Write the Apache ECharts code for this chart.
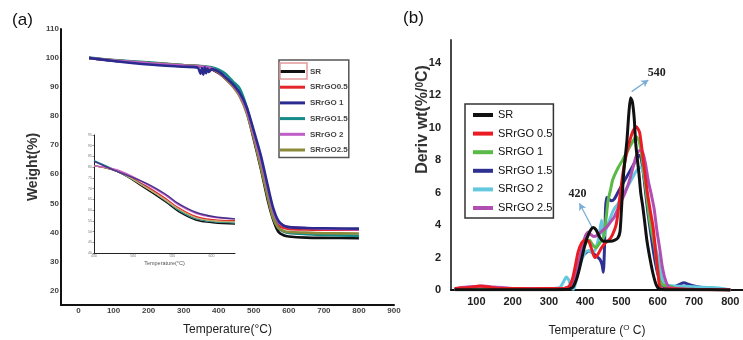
<!DOCTYPE html>
<html><head><meta charset="utf-8">
<script src="https://cdn.jsdelivr.net/npm/echarts@6/dist/echarts.min.js"></script>
<style>html,body{margin:0;padding:0;background:#fff}#c{width:743px;height:340px}</style>
</head><body><div id="c"></div>
<script>
// ---------- Panel (a): TGA weight curves ----------
const NAMES_A = ['SR','SRrGO0.5','SRrGO 1','SRrGO1.5','SRrGO 2','SRrGO2.5'];
const TA = [30,100,200,300,360,380,400,420,440,460,480,500,520,540,555,570,585,600,650,700,800];
const A_SR  = [100,99.1,98.2,97.4,96.9,96.1,94.8,93,91,87.5,81.5,72,62,51,44.5,40.2,39,38.6,38.2,38.1,38];
const A_R05 = [100,99.2,98.3,97.5,97,96.3,95,92.8,90.5,87,81.5,73,63.5,53,46,42.5,41.6,41.2,41,40.9,40.9];
const A_T15 = [100.2,99.3,98.5,97.6,97.2,96.8,96,94.5,92,89.5,83,73.5,63,52.5,45.5,41.5,40.3,39.8,39.4,39.1,38.8];
const A_P2  = [100,99.1,98.2,97.4,97,96.4,95.2,93.2,90.8,87.5,82,74,65,55,47.5,43.5,42.3,41.8,41.5,41.3,41];
const A_O25 = [100,99.2,98.3,97.5,97,96.4,95,92.8,90.2,86.8,81,72.5,62.5,52,45,41.5,40.5,40.1,39.9,39.7,39.6];
const TB = [30,100,200,300,340,348,352,356,360,364,368,372,380,400,420,440,460,480,500,520,540,555,570,585,600,650,700,800];
const A_B1  = [100,99,97.8,97,96.7,94.6,96.6,94.3,96.8,94.8,96.4,95.2,96.2,95.3,93.3,91,88,83,75,66.5,56,48.5,44,42.3,41.8,41.5,41.4,41.3];
const COLORS_A = ['#111111','#e3262b','#2b2b8f','#178a8a','#c05ec8','#8b8a3b'];
const XTICKS_A = [0,100,200,300,400,500,600,700,800,900];
const YTICKS_A = [20,30,40,50,60,70,80,90,100,110];

// inset of panel (a)
const T_IN = [450,480,515,541,558,580,602,630];
const IN_SR  = [80.6,77.9,70.2,63.9,59.3,55.4,54.1,53.5];
const IN_R05 = [80.6,78.3,71.5,65.5,61,57,55.5,55];
const IN_B1  = [82.7,77.9,72.8,67.5,63,59,57,55.9];
const IN_T15 = [83,78,71,64.5,60,56,54.6,54];
const IN_P2  = [80.6,78.7,72.5,67,62.4,58.5,56.6,55.9];
const IN_O25 = [80.6,78,70.8,64.8,60.5,56.5,55,54.6];

// ---------- Panel (b): DTG curves ----------
const NAMES_B = ['SR','SRrGO 0.5','SRrGO 1','SRrGO 1.5','SRrGO 2','SRrGO 2.5'];
const COLORS_B = ['#111111','#ec1c24','#5bb947','#2e3192','#63c7de','#b04fb0'];
const XTICKS_B = [100,200,300,400,500,600,700,800];
const YTICKS_B = [0,2,4,6,8,10,12,14];
const TS_SR = [40,100,200,300,350,365,375,385,395,405,415,422,430,440,450,460,470,480,490,496,500,506,515,520,525,530,535,539,543,548,553,559,565,570,578,587,596,605,620,700,800];
const B_SR  = [0.02,0.02,0.02,0.02,0.03,0.15,0.6,1.4,2.4,3.2,3.7,3.85,3.7,3.25,3.0,3.0,3.0,3.05,3.2,3.6,5.0,7.2,9.2,10.8,11.85,11.6,10.6,9.1,8.2,7.2,6.0,5.1,4.0,3.06,2.0,1.0,0.3,0.05,0.02,0.02,0];
const TS_R05 = [40,80,110,130,160,200,250,300,340,355,365,372,380,390,400,410,418,426,435,445,455,465,475,485,490,497,504,512,523,532,541,550,559,570,580,587,595,601,605,612,630,700,800];
const B_R05  = [0.1,0.15,0.25,0.2,0.1,0.1,0.08,0.1,0.1,0.2,0.7,1.4,2.3,2.9,3.1,3.0,2.5,2.0,2.2,2.6,2.9,3.06,3.4,4.0,4.7,6.0,7.2,8.2,9.2,9.8,10.06,9.7,8.2,6.2,4.8,3.9,2.2,1.0,0.2,0.05,0.08,0.03,0.0];
const TS_G1 = [40,100,200,300,350,365,375,385,395,405,412,420,430,440,450,458,463,470,476,490,503,515,527,535,541,548,555,562,569,577,585,592,598,605,615,630,650,700,800];
const B_G1  = [0.05,0.08,0.06,0.06,0.08,0.3,1.0,1.9,2.6,3.0,3.06,2.8,2.6,2.9,3.2,4.5,5.5,6.2,6.8,7.5,8.0,8.5,9.0,9.3,9.44,9.2,8.4,7.2,5.9,4.4,3.4,2.6,1.5,0.6,0.3,0.25,0.1,0.05,0.0];
const TS_B15 = [40,100,200,300,340,360,370,380,390,400,410,420,430,440,446,450,453,456,459,465,472,480,490,500,510,520,530,540,548,553,558,565,572,580,590,600,610,620,640,660,672,685,700,730,770,800];
const B_B15  = [0.05,0.05,0.05,0.05,0.05,0.3,0.8,1.5,2.0,2.25,2.4,2.3,2.1,1.9,1.6,1.1,2.5,5.0,5.7,5.6,5.5,5.6,6.0,6.4,6.8,7.2,7.6,8.0,8.3,8.2,7.6,6.3,4.9,3.6,2.1,1.0,0.35,0.15,0.15,0.35,0.45,0.35,0.25,0.12,0.05,0.0];
const TS_C2 = [40,100,200,300,330,340,348,355,362,368,375,385,395,405,412,420,428,435,440,445,448,452,458,465,472,480,490,500,510,520,530,540,550,556,562,570,578,586,594,601,607,614,625,650,700,750,790,800];
const B_C2  = [0.05,0.05,0.05,0.08,0.15,0.5,0.8,0.6,0.1,0.05,0.6,1.5,2.1,2.4,2.4,2.3,2.5,3.0,3.6,4.3,3.5,3.3,3.8,4.2,4.6,5.0,5.3,5.7,6.1,6.5,6.9,7.3,7.55,7.5,7.1,6.0,4.7,3.6,2.6,2.0,1.2,0.6,0.3,0.25,0.2,0.15,0.05,0.0];
const TS_M25 = [40,60,80,100,120,140,170,200,250,300,340,360,370,380,390,400,408,416,424,432,440,450,460,470,480,490,500,510,520,530,540,550,558,566,574,582,590,598,605,612,620,630,650,700,800];
const B_M25  = [0.05,0.15,0.2,0.22,0.25,0.2,0.15,0.1,0.1,0.1,0.1,0.2,0.6,1.5,2.5,3.3,3.57,3.4,3.3,3.35,3.5,3.7,3.9,4.2,4.5,5.0,5.5,6.0,6.6,7.4,8.2,8.6,8.5,7.8,6.7,5.9,5.0,3.6,2.6,1.5,0.7,0.2,0.1,0.05,0.02];
const PEAK_LABELS = ['540','420'];

const FF = '"Liberation Sans", Arial, sans-serif';
const pairs = (xs, ys) => xs.map((x, i) => [x, ys[i]]);

function lineA(name, xs, ys, color, z) {
  return {name, type:'line', xAxisIndex:0, yAxisIndex:0, data:pairs(xs, ys), symbol:'none', smooth:0.25,
    lineStyle:{color, width:2.6}, itemStyle:{color}, z};
}
function lineIn(name, ys, color) {
  return {name, type:'line', xAxisIndex:1, yAxisIndex:1, data:pairs(T_IN, ys), symbol:'none', smooth:0.4,
    lineStyle:{color, width:1.4}, itemStyle:{color}};
}
function lineB(name, xs, ys, color, z, extra) {
  return Object.assign({name, type:'line', xAxisIndex:2, yAxisIndex:2, data:pairs(xs, ys), symbol:'none', smooth:0.2,
    lineStyle:{color, width:3}, itemStyle:{color}, z}, extra || {});
}

const chart = echarts.init(document.getElementById('c'), null, {renderer:'canvas'});
chart.setOption({
  animation:false,
  backgroundColor:'#ffffff',
  textStyle:{fontFamily:FF},
  grid:[
    {left:61, top:29, width:333, height:276, outerBoundsMode:'none', containLabel:false},
    {left:94, top:135, width:141, height:118, outerBoundsMode:'none', containLabel:false},
    {left:451, top:40, width:292, height:250, outerBoundsMode:'none', containLabel:false}
  ],
  xAxis:[
    {gridIndex:0, type:'value', min:-50, max:900, interval:50,
     axisLine:{onZero:false, lineStyle:{color:'#111', width:2}}, axisTick:{show:false}, splitLine:{show:false},
     axisLabel:{formatter:v => XTICKS_A.includes(v) ? String(v) : '', fontSize:8, fontWeight:'bold', color:'#444', margin:2, fontFamily:FF},
     name:'Temperature(°C)', nameLocation:'middle', nameGap:19,
     nameTextStyle:{fontSize:12, color:'#222', fontFamily:FF}},
    {gridIndex:1, type:'value', min:450, max:630, interval:50,
     axisLine:{onZero:false, lineStyle:{color:'#222', width:1}}, axisTick:{show:true, length:1.5, lineStyle:{color:'#444', width:0.6}}, splitLine:{show:false},
     axisLabel:{fontSize:3.5, color:'#777', margin:1, showMaxLabel:false},
     name:'Temperature(°C)', nameLocation:'middle', nameGap:7,
     nameTextStyle:{fontSize:5.5, color:'#555'}},
    {gridIndex:2, type:'value', min:30, max:835, interval:10,
     axisLine:{onZero:false, lineStyle:{color:'#111', width:2}}, axisTick:{show:false}, splitLine:{show:false},
     axisLabel:{formatter:v => XTICKS_B.includes(v) ? String(v) : '', fontSize:11, fontWeight:'bold', color:'#222', margin:6, fontFamily:FF},
     name:'Temperature ({s|O} C)', nameLocation:'middle', nameGap:34,
     nameTextStyle:{fontSize:12, lineHeight:14, color:'#222', fontFamily:FF,
       rich:{s:{fontSize:8, verticalAlign:'top', lineHeight:14, color:'#222', fontFamily:FF}}}}
  ],
  yAxis:[
    {gridIndex:0, type:'value', min:15, max:110, interval:5,
     axisLine:{show:true, onZero:false, lineStyle:{color:'#111', width:2}}, axisTick:{show:false}, splitLine:{show:false},
     axisLabel:{formatter:v => YTICKS_A.includes(v) ? String(v) : '', fontSize:8, fontWeight:'bold', color:'#444', margin:2, fontFamily:FF},
     name:'Weight(%)', nameLocation:'middle', nameGap:21,
     nameTextStyle:{fontSize:14, fontWeight:'bold', color:'#333', fontFamily:FF}},
    {gridIndex:1, type:'value', min:40, max:95, interval:5,
     axisLine:{show:true, onZero:false, lineStyle:{color:'#222', width:1}}, axisTick:{show:true, length:1.5, lineStyle:{color:'#444', width:0.6}}, splitLine:{show:false},
     axisLabel:{fontSize:3.5, color:'#777', margin:2}},
    {gridIndex:2, type:'value', min:0, max:15.4, interval:2,
     axisLine:{show:true, onZero:false, lineStyle:{color:'#333', width:1.8}}, axisTick:{show:false}, splitLine:{show:false},
     axisLabel:{formatter:v => YTICKS_B.includes(v) ? String(v) : '', fontSize:11, fontWeight:'bold', color:'#222', margin:10, fontFamily:FF}}
  ],
  legend:[
    {orient:'vertical', left:279, top:60, icon:'rect', itemWidth:25, itemHeight:3, itemGap:4.7,
     padding:[6,1,2,1], borderColor:'#555', borderWidth:1.5,
     textStyle:{fontSize:8, fontWeight:'bold', color:'#444', lineHeight:11, fontFamily:FF},
     data:NAMES_A.map((n, i) => ({name:n, itemStyle:{color:COLORS_A[i]}}))},
    {orient:'vertical', left:465, top:104, icon:'rect', itemWidth:20, itemHeight:4, itemGap:4.6,
     padding:[4,1,3,8], borderColor:'#333', borderWidth:1.5,
     textStyle:{fontSize:11, color:'#111', lineHeight:14, fontFamily:FF},
     data:NAMES_B.map((n, i) => ({name:n, itemStyle:{color:COLORS_B[i]}}))}
  ],
  graphic:[
    {type:'text', x:22.5, y:20.5, style:{text:'(a)', fontSize:17, fill:'#111', fontFamily:FF, align:'center', verticalAlign:'middle'}},
    {type:'text', x:413.5, y:18.5, style:{text:'(b)', fontSize:17, fill:'#111', fontFamily:FF, align:'center', verticalAlign:'middle'}},
    {type:'rect', shape:{x:280, y:63, width:27, height:16}, style:{fill:'none', stroke:'#e39a9a', lineWidth:1.5}, z:100},
    {type:'text', x:423, y:119.5, rotation:Math.PI/2,
     style:{text:'Deriv wt(%/{s|0}C)', fontSize:16, fontWeight:'bold', fill:'#333', fontFamily:FF, align:'center', verticalAlign:'middle',
       rich:{s:{fontSize:10, fontWeight:'bold', verticalAlign:'top', fill:'#333', fontFamily:FF}}}}
  ],
  series:[
    lineA(NAMES_A[0], TA, A_SR, COLORS_A[0], 2),
    lineA(NAMES_A[1], TA, A_R05, COLORS_A[1], 3),
    lineA(NAMES_A[3], TA, A_T15, COLORS_A[3], 4),
    lineA(NAMES_A[5], TA, A_O25, COLORS_A[5], 5),
    lineA(NAMES_A[4], TA, A_P2, COLORS_A[4], 6),
    lineA(NAMES_A[2], TB, A_B1, COLORS_A[2], 7),
    lineIn('in-SR', IN_SR, COLORS_A[0]),
    lineIn('in-0.5', IN_R05, COLORS_A[1]),
    lineIn('in-1.5', IN_T15, COLORS_A[3]),
    lineIn('in-2.5', IN_O25, '#c9a86a'),
    lineIn('in-2', IN_P2, COLORS_A[4]),
    lineIn('in-1', IN_B1, '#4a2f8a'),
    lineB(NAMES_B[3], TS_B15, B_B15, COLORS_B[3], 2),
    lineB(NAMES_B[4], TS_C2, B_C2, COLORS_B[4], 3),
    lineB(NAMES_B[2], TS_G1, B_G1, COLORS_B[2], 4),
    lineB(NAMES_B[5], TS_M25, B_M25, COLORS_B[5], 5),
    lineB(NAMES_B[1], TS_R05, B_R05, COLORS_B[1], 6),
    lineB(NAMES_B[0], TS_SR, B_SR, COLORS_B[0], 7, {
      markLine:{silent:true, symbol:['none','arrow'], symbolSize:[6,7], label:{show:false},
        lineStyle:{color:'#7aaed6', width:1.3, type:'solid'},
        data:[[{coord:[528,12.22]},{coord:[574,12.94]}],[{coord:[418,3.9]},{coord:[384,5.34]}]]},
      markPoint:{silent:true, symbol:'circle', symbolSize:0,
        label:{show:true, position:'inside', formatter:p => p.name, fontFamily:'"Liberation Serif", serif', fontWeight:'bold', fontSize:12, color:'#222'},
        data:[{name:PEAK_LABELS[0], coord:[597,13.35]},{name:PEAK_LABELS[1], coord:[379,5.9]}]}
    })
  ]
});
</script></body></html>
